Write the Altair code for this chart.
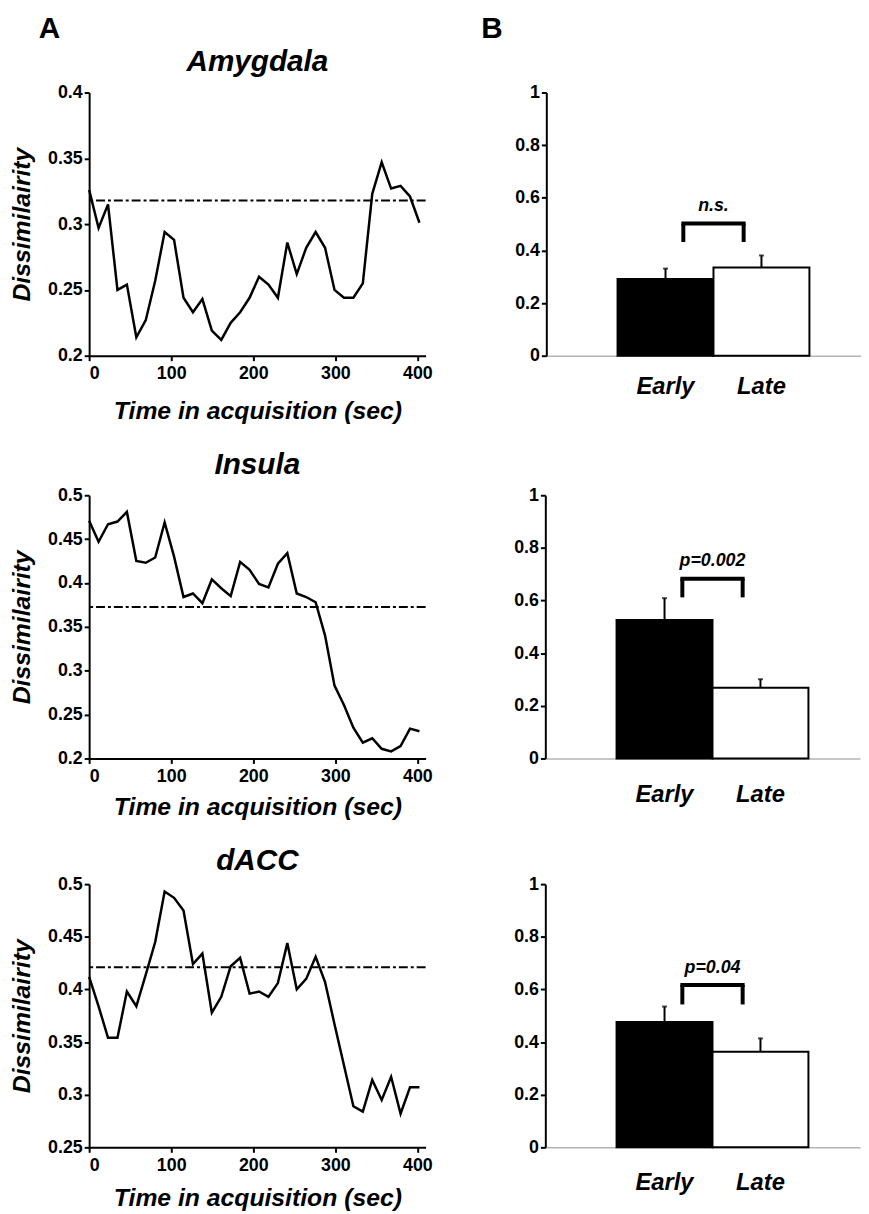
import altair as alt
import pandas as pd

FONT = "Liberation Sans"

# ---------------- Panel A: dissimilarity time courses ----------------
time_s = [0, 11.5, 23, 34.5, 46, 57.5, 69, 80.5, 92, 103.5, 115, 126.5, 138, 149.5,
          161, 172.5, 184, 195.5, 207, 218.5, 230, 241.5, 253, 264.5, 276, 287.5,
          299, 310.5, 322, 333.5, 345, 356.5, 368, 379.5, 391, 402.5]

amygdala = [0.326, 0.297, 0.315, 0.250, 0.254, 0.214, 0.227, 0.257, 0.294, 0.288,
            0.244, 0.233, 0.243, 0.219, 0.212, 0.225, 0.233, 0.244, 0.260, 0.254,
            0.244, 0.286, 0.262, 0.282, 0.294, 0.282, 0.250, 0.244, 0.244, 0.255,
            0.323, 0.347, 0.327, 0.329, 0.321, 0.301]

insula = [0.471, 0.447, 0.467, 0.470, 0.481, 0.425, 0.423, 0.429, 0.469, 0.430,
          0.384, 0.388, 0.377, 0.404, 0.394, 0.385, 0.424, 0.415, 0.399, 0.395,
          0.422, 0.434, 0.388, 0.384, 0.378, 0.340, 0.283, 0.261, 0.235, 0.218,
          0.223, 0.211, 0.208, 0.214, 0.234, 0.231]

dacc = [0.412, 0.384, 0.354, 0.354, 0.398, 0.384, 0.414, 0.445, 0.493, 0.487,
        0.475, 0.424, 0.434, 0.378, 0.393, 0.422, 0.430, 0.396, 0.398, 0.393,
        0.406, 0.444, 0.400, 0.410, 0.431, 0.407, 0.367, 0.328, 0.289, 0.284,
        0.314, 0.295, 0.317, 0.282, 0.307, 0.307]

series = [amygdala, insula, dacc]
regions = ["Amygdala", "Insula", "dACC"]
thresholds = [0.318, 0.3725, 0.421]
y_domains = [[0.2, 0.4], [0.2, 0.5], [0.25, 0.5]]
y_ticks = [[0.2, 0.25, 0.3, 0.35, 0.4],
           [0.2, 0.25, 0.3, 0.35, 0.4, 0.45, 0.5],
           [0.25, 0.3, 0.35, 0.4, 0.45, 0.5]]
x_domain = [0, 410]
x_ticks = [0, 100, 200, 300, 400]

# ---------------- Panel B: Early vs Late bars ----------------
conditions = ["Early", "Late"]
bar_means = [[0.291, 0.335], [0.526, 0.269], [0.476, 0.363]]
bar_errors = [[0.040, 0.046], [0.083, 0.032], [0.059, 0.051]]
bracket_top = [0.502, 0.683, 0.617]
bracket_bottom = [0.432, 0.612, 0.543]
p_labels = ["n.s.", "p=0.002", "p=0.04"]
p_label_y = [0.567, 0.749, 0.683]
bar_ticks = [0, 0.2, 0.4, 0.6, 0.8, 1]

# layout tweaks (pixels)
title_baseline = [-22, -21, -14]
x_title_pad = [16, 10, 12]
bar_label_pad = [19, 25, 24]
LINE_W, BAR_W, PANEL_H = 340, 318, 266


def letter_layer(letter, dx):
    return alt.Chart(pd.DataFrame({"t": [letter]})).mark_text(
        fontSize=30, fontWeight="bold", fontStyle="normal", font=FONT, color="black",
        baseline="middle", align="center"
    ).encode(text="t:N", x=alt.value(dx), y=alt.value(-64))


def line_panel(i, letter=None):
    df = pd.DataFrame({"time": time_s, "dissim": series[i]})
    xenc = alt.X("time:Q",
                 scale=alt.Scale(domain=x_domain, nice=False, zero=False),
                 axis=alt.Axis(values=x_ticks, title="Time in acquisition (sec)",
                               labelPadding=4, titlePadding=x_title_pad[i]))
    yenc = alt.Y("dissim:Q",
                 scale=alt.Scale(domain=y_domains[i], nice=False, zero=False),
                 axis=alt.Axis(values=y_ticks[i], format="~g", title="Dissimilairity",
                               titlePadding=13))
    thr = alt.Chart(pd.DataFrame({"dissim": [thresholds[i]]})).mark_rule(
        color="black", strokeWidth=2, strokeDash=[9, 3, 3, 3]
    ).encode(y=yenc)
    line = alt.Chart(df).mark_line(color="black", strokeWidth=2.5).encode(x=xenc, y=yenc)
    ttl = alt.Chart(pd.DataFrame({"t": [regions[i]]})).mark_text(
        fontSize=30, fontWeight="bold", fontStyle="italic", font=FONT, color="black",
        baseline="alphabetic", align="center"
    ).encode(text="t:N", x=alt.value(LINE_W / 2), y=alt.value(title_baseline[i]))
    layers = [thr, line, ttl]
    if letter:
        layers.append(letter_layer(letter, -40))
    return alt.layer(*layers).properties(width=LINE_W, height=PANEL_H)


def bar_panel(i, letter=None):
    df = pd.DataFrame({"cond": conditions, "mean": bar_means[i], "err": bar_errors[i]})
    xs = alt.Scale(domain=conditions, paddingInner=0, paddingOuter=0.64, align=0.58)
    xax = alt.Axis(title=None, ticks=False, labelAngle=0, domainColor="#b4b4b4",
                   domainWidth=1.5, labelFontSize=24, labelFontStyle="italic",
                   labelPadding=bar_label_pad[i])
    ys = alt.Scale(domain=[0, 1], nice=False)
    yax = alt.Axis(values=bar_ticks, format="~g", title=None)

    def X(field, **kw):
        return alt.X(field, type="nominal", scale=xs, axis=xax, title=None, **kw)

    def Y(field):
        return alt.Y(field, type="quantitative", scale=ys, axis=yax, title=None)

    bars = alt.Chart(df).mark_bar(stroke="black", strokeWidth=2).encode(
        x=X("cond"), y=Y("mean"),
        fill=alt.Fill("cond:N", scale=alt.Scale(domain=conditions, range=["black", "white"]),
                      legend=None),
    )
    eb = alt.Chart(df).transform_calculate(upper="datum.mean + datum.err")
    err = eb.mark_rule(color="black", strokeWidth=2).encode(
        x=X("cond"), y=Y("mean"), y2=alt.Y2("upper:Q"))
    cap = eb.mark_tick(color="black", size=5, thickness=2).encode(x=X("cond"), y=Y("upper:Q"))

    bdf = pd.DataFrame({"left": [conditions[0]], "right": [conditions[1]],
                        "top": [bracket_top[i]], "bottom": [bracket_bottom[i]],
                        "label": [p_labels[i]], "label_y": [p_label_y[i]]})
    hbar = alt.Chart(bdf).mark_rule(color="black", strokeWidth=4, strokeCap="square",
                                    xOffset=18, x2Offset=-18).encode(
        x=X("left"), x2=alt.X2("right"), y=Y("top"))
    lleg = alt.Chart(bdf).mark_rule(color="black", strokeWidth=4, xOffset=18).encode(
        x=X("left"), y=Y("top"), y2=alt.Y2("bottom"))
    rleg = alt.Chart(bdf).mark_rule(color="black", strokeWidth=4, xOffset=-18).encode(
        x=X("right"), y=Y("top"), y2=alt.Y2("bottom"))
    txt = alt.Chart(bdf).mark_text(fontSize=18, fontWeight="bold", fontStyle="italic",
                                   font=FONT, baseline="middle", color="black").encode(
        x=X("left", bandPosition=1), y=Y("label_y"), text="label:N")
    layers = [bars, err, cap, hbar, lleg, rleg, txt]
    if letter:
        layers.append(letter_layer(letter, -55))
    return alt.layer(*layers).properties(width=BAR_W, height=PANEL_H)


row1 = alt.hconcat(line_panel(0, "A"), bar_panel(0, "B"), spacing=49)
row2 = alt.hconcat(line_panel(1), bar_panel(1), spacing=81)
row3 = alt.hconcat(line_panel(2), bar_panel(2), spacing=81)

chart = alt.vconcat(
    alt.vconcat(row1, row2, spacing=28), row3, spacing=27
).properties(
    padding={"left": 1, "top": 0, "right": 0, "bottom": 0}
).configure(font=FONT).configure_axis(
    labelFont=FONT, labelFontSize=18, labelFontWeight="bold", labelColor="black",
    titleFont=FONT, titleFontSize=25, titleFontWeight="bold", titleFontStyle="italic",
    titleColor="black", domainColor="black", domainWidth=2, tickColor="black",
    tickWidth=2, tickSize=5, grid=False,
).configure_view(stroke=None)

chart.save("out.html", embed_options={"renderer": "svg", "actions": False})
